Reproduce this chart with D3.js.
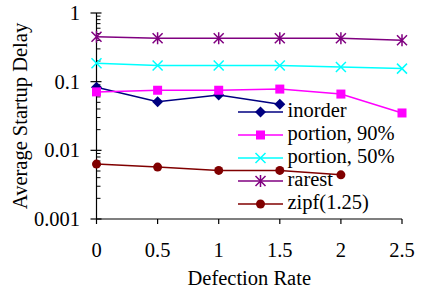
<!DOCTYPE html>
<html>
<head>
<meta charset="utf-8">
<script src="https://d3js.org/d3.v7.min.js"></script>
<style>
  body { margin: 0; background: #fff; }
</style>
</head>
<body>
<svg id="chart"></svg>
<script>
// defection rates on the x axis
var rates = [0, 0.5, 1, 1.5, 2, 2.5];

// average startup delay per scheme
var inorder   = [0.083, 0.051, 0.064, 0.047];
var portion90 = [0.071, 0.075, 0.075, 0.078, 0.066, 0.035];
var portion50 = [0.185, 0.172, 0.172, 0.172, 0.164, 0.155];
var rarest    = [0.45, 0.43, 0.43, 0.43, 0.43, 0.40];
var zipf      = [0.0063, 0.0057, 0.0051, 0.0051, 0.0044];

var names  = ['inorder', 'portion, 90%', 'portion, 50%', 'rarest', 'zipf(1.25)'];
var xTicks = [0, 0.5, 1, 1.5, 2, 2.5];
var yTicks = [0.001, 0.01, 0.1, 1];
var yLabels = ['0.001', '0.01', '0.1', '1'];

var series = [
  {name: names[0], vals: inorder,   color: '#000080', mark: 'diamond'},
  {name: names[1], vals: portion90, color: '#ff00ff', mark: 'square'},
  {name: names[2], vals: portion50, color: '#00ffff', mark: 'cross'},
  {name: names[3], vals: rarest,    color: '#800080', mark: 'star'},
  {name: names[4], vals: zipf,      color: '#800000', mark: 'circle'}
];

var FONT = "'Liberation Serif', 'Times New Roman', Tinos, 'DejaVu Serif', serif";
var FS = 20.5;
var W = 421, H = 295;
var svg = d3.select('#chart').attr('width', W).attr('height', H);

var x = d3.scaleLinear().domain([0, 2.5]).range([96.5, 402]);
var y = d3.scaleLog().domain([0.001, 1]).range([219, 13]);

// y axis: major ticks cross the line, minor ones sit inside
var minor = [];
for (var e = -3; e < 0; e++) {
  for (var k = 2; k <= 9; k++) minor.push(k * Math.pow(10, e));
}

var yg = svg.append('g');
yg.append('line')
  .attr('x1', x(0)).attr('x2', x(0))
  .attr('y1', y(1)).attr('y2', y(0.001))
  .attr('stroke', '#000').attr('stroke-width', 1.2);
yg.selectAll('.maj').data(yTicks).enter().append('line')
  .attr('x1', x(0) - 6).attr('x2', x(0) + 5)
  .attr('y1', function(d) { return y(d); })
  .attr('y2', function(d) { return y(d); })
  .attr('stroke', '#000').attr('stroke-width', 1.2);
yg.selectAll('.min').data(minor).enter().append('line')
  .attr('x1', x(0)).attr('x2', x(0) + 4)
  .attr('y1', function(d) { return y(d); })
  .attr('y2', function(d) { return y(d); })
  .attr('stroke', '#000').attr('stroke-width', 1);
yg.selectAll('text').data(yTicks).enter().append('text')
  .attr('x', 80)
  .attr('y', function(d) { return y(d) + 7; })
  .attr('text-anchor', 'end')
  .attr('font-family', FONT)
  .attr('font-size', FS)
  .text(function(d, i) { return yLabels[i]; });

// x axis
var xg = svg.append('g');
xg.append('line')
  .attr('x1', x(0)).attr('x2', x(2.5))
  .attr('y1', y(0.001)).attr('y2', y(0.001))
  .attr('stroke', '#000').attr('stroke-width', 1.2);
xg.selectAll('.tk').data(xTicks).enter().append('line')
  .attr('x1', function(d) { return x(d); })
  .attr('x2', function(d) { return x(d); })
  .attr('y1', y(0.001)).attr('y2', y(0.001) + 5)
  .attr('stroke', '#000').attr('stroke-width', 1.2);
xg.selectAll('text').data(xTicks).enter().append('text')
  .attr('x', function(d) { return x(d); })
  .attr('y', 257)
  .attr('text-anchor', 'middle')
  .attr('font-family', FONT)
  .attr('font-size', FS)
  .text(function(d) { return d; });

svg.append('text')
  .attr('x', (x(0) + x(2.5)) / 2)
  .attr('y', 284.5)
  .attr('text-anchor', 'middle')
  .attr('font-family', FONT)
  .attr('font-size', FS)
  .text('Defection Rate');

svg.append('text')
  .attr('transform', 'translate(27,' + ((y(1) + y(0.001)) / 2) + ') rotate(-90)')
  .attr('text-anchor', 'middle')
  .attr('font-family', FONT)
  .attr('font-size', FS)
  .text('Average Startup Delay');

function drawMark(g, type, color, cx, cy) {
  if (type === 'diamond') {
    g.append('path')
      .attr('d', 'M' + cx + ',' + (cy - 5.5) + 'L' + (cx + 5.5) + ',' + cy +
                 'L' + cx + ',' + (cy + 5.5) + 'L' + (cx - 5.5) + ',' + cy + 'Z')
      .attr('fill', color);
  } else if (type === 'square') {
    g.append('rect')
      .attr('x', cx - 4.5).attr('y', cy - 4.5)
      .attr('width', 9).attr('height', 9)
      .attr('fill', color);
  } else if (type === 'circle') {
    g.append('circle')
      .attr('cx', cx).attr('cy', cy).attr('r', 4.5)
      .attr('fill', color);
  } else {
    var r = 5;
    var d = 'M' + (cx - r) + ',' + (cy - r) + 'L' + (cx + r) + ',' + (cy + r) +
            'M' + (cx - r) + ',' + (cy + r) + 'L' + (cx + r) + ',' + (cy - r);
    if (type === 'star') d += 'M' + cx + ',' + (cy - r - 1) + 'L' + cx + ',' + (cy + r + 1);
    g.append('path').attr('d', d)
      .attr('stroke', color).attr('stroke-width', 1.5).attr('fill', 'none');
  }
}

var line = d3.line()
  .x(function(d, i) { return x(rates[i]); })
  .y(function(d) { return y(d); });

series.forEach(function(s) {
  var g = svg.append('g');
  g.append('path')
    .attr('d', line(s.vals))
    .attr('fill', 'none')
    .attr('stroke', s.color)
    .attr('stroke-width', 1.5);
  s.vals.forEach(function(v, i) {
    drawMark(g, s.mark, s.color, x(rates[i]), y(v));
  });
});

// legend, no background
var lg = svg.append('g');
series.forEach(function(s, i) {
  var ly = 112 + i * 23;
  lg.append('line')
    .attr('x1', 238).attr('x2', 283)
    .attr('y1', ly).attr('y2', ly)
    .attr('stroke', s.color).attr('stroke-width', 1.5);
  drawMark(lg, s.mark, s.color, 260.5, ly);
  lg.append('text')
    .attr('x', 287.5)
    .attr('y', ly + 4.6)
    .attr('font-family', FONT)
    .attr('font-size', FS)
    .text(s.name);
});
</script>
</body>
</html>
